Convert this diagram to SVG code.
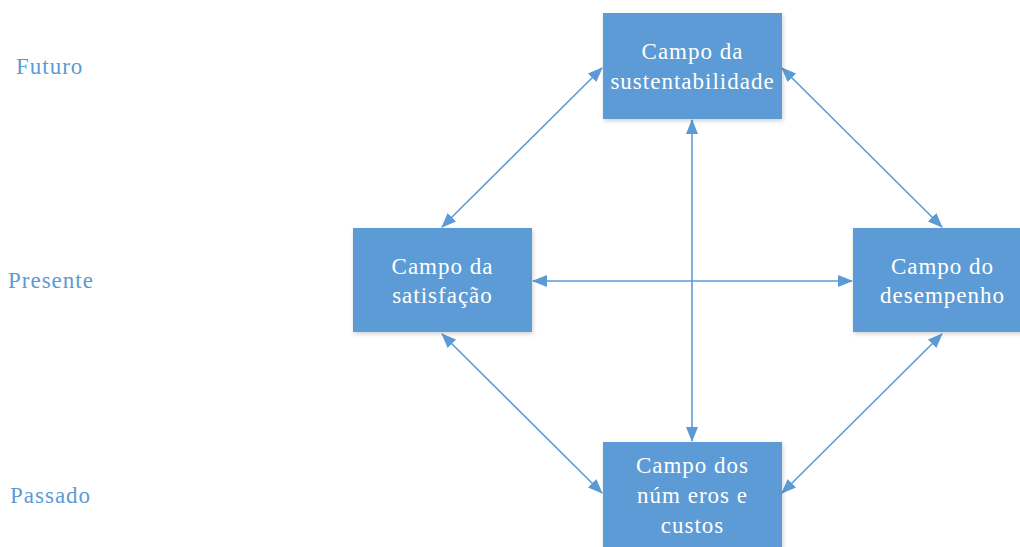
<svg xmlns="http://www.w3.org/2000/svg" width="1020" height="547" viewBox="0 0 1020 547">
<style>
.box{fill:#5B9BD5;filter:url(#sh)}
.bt{fill:#FFFFFF;font-family:"Liberation Serif","Times New Roman",serif;font-size:23px;letter-spacing:1px;text-anchor:middle}
.lbl{fill:#5B9BD5;font-family:"Liberation Serif","Times New Roman",serif;font-size:23px;letter-spacing:1px}
.con{stroke:#5B9BD5;stroke-width:1.6;fill:none;marker-start:url(#ah);marker-end:url(#ah)}
</style>
<defs>
<filter id="sh" x="-10%" y="-10%" width="120%" height="130%">
<feDropShadow dx="1" dy="2" stdDeviation="2" flood-color="#000" flood-opacity="0.18"/>
</filter>
<marker id="ah" viewBox="0 0 15 12" refX="14" refY="6" markerWidth="15" markerHeight="12" markerUnits="userSpaceOnUse" orient="auto-start-reverse">
<path d="M0,0 L15,6 L0,12 Z" fill="#5B9BD5"/>
</marker>
</defs>
<g id="labels">
<text class="lbl" x="16" y="74">Futuro</text>
<text class="lbl" x="8" y="288">Presente</text>
<text class="lbl" x="10" y="503">Passado</text>
</g>
<g id="connectors">
<line class="con" x1="442" y1="227" x2="602" y2="68"/>
<line class="con" x1="782" y1="68" x2="942" y2="227"/>
<line class="con" x1="442" y1="334" x2="602" y2="493"/>
<line class="con" x1="942" y1="334" x2="782" y2="493"/>
<line class="con" x1="692" y1="120" x2="692" y2="441"/>
<line class="con" x1="533" y1="281" x2="852" y2="281"/>
</g>
<g id="node-sustentabilidade">
<rect class="box" x="603" y="13" width="179" height="106"/>
<text class="bt" x="692.5" y="59">Campo da</text>
<text class="bt" x="692.5" y="89">sustentabilidade</text>
</g>
<g id="node-satisfacao">
<rect class="box" x="353" y="228" width="179" height="104"/>
<text class="bt" x="442.5" y="274">Campo da</text>
<text class="bt" x="442.5" y="303">satisfação</text>
</g>
<g id="node-desempenho">
<rect class="box" x="853" y="228" width="179" height="104"/>
<text class="bt" x="942.5" y="274">Campo do</text>
<text class="bt" x="942.5" y="303">desempenho</text>
</g>
<g id="node-numeros">
<rect class="box" x="603" y="442" width="179" height="115"/>
<text class="bt" x="692.5" y="473">Campo dos</text>
<text class="bt" x="692.5" y="503">núm eros e</text>
<text class="bt" x="692.5" y="533">custos</text>
</g>
</svg>
